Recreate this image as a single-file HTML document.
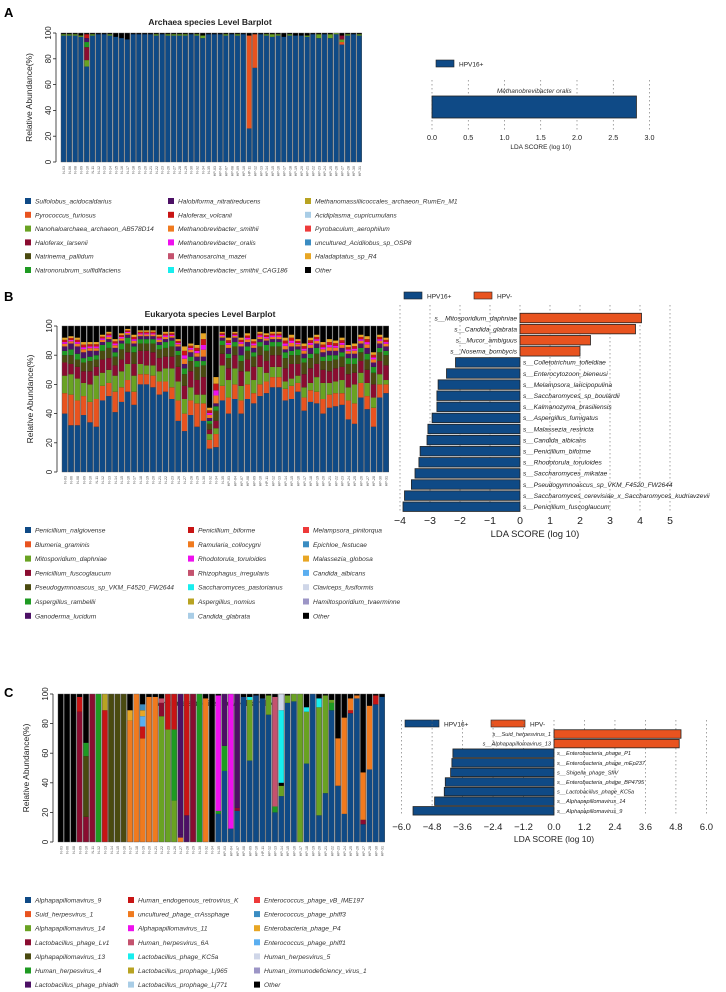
<!DOCTYPE html>
<html><head><meta charset="utf-8"><style>
body{margin:0;background:#fff;}
svg{display:block;font-family:"Liberation Sans",sans-serif;}
.it{font-style:italic;}
</style></head><body>
<svg id="fig" width="726" height="992" viewBox="0 0 726 992" xmlns="http://www.w3.org/2000/svg">
<text x="4" y="17" font-size="13" font-weight="bold">A</text>
<text x="4" y="301" font-size="13" font-weight="bold">B</text>
<text x="4" y="697" font-size="13" font-weight="bold">C</text>
<text x="210" y="25" font-size="8.5" font-weight="bold" text-anchor="middle" fill="#222">Archaea species Level Barplot</text>
<text x="210" y="317" font-size="8.5" font-weight="bold" text-anchor="middle" fill="#222">Eukaryota species Level Barplot</text>
<text x="215" y="706" font-size="8.5" font-weight="bold" text-anchor="middle" fill="#222">Viruses species Level Barplot</text>
<g id="g"></g>
</svg>
<script>
const palette=["#0f4a86","#e8531f","#69a222","#8a0c30","#4a4a10","#1e9a22","#4c1065","#c81414","#f07a1e","#ee10ee","#c4526e","#18eeee","#b8a322","#a9cde6","#ee3a3a","#3a8cc2","#e8a624","#5aaef0","#cfd6e8","#9c95c6","#000000"];
const nLabels=["N-03","N-06","N-08","N-09","N-10","N-11","N-12","N-13","N-14","N-15","N-16","N-17","N-18","N-19","N-20","N-21","N-22","N-23","N-26","N-27","N-28","N-29","N-30","N-32","N-34","N-35"];
const hLabels=["HP-03","HP-04","HP-07","HP-08","HP-09","HP-10","HP-11","HP-12","HP-13","HP-14","HP-15","HP-16","HP-17","HP-18","HP-19","HP-20","HP-21","HP-22","HP-23","HP-24","HP-25","HP-26","HP-27","HP-28","HP-30","HP-31"];
const sampleLabels=nLabels.concat(hLabels);

// Archaea (percent)
const archaeaSulfolobus=[98,98,98,97,74,98,99,99,98,97,96,95,99,99,99,99,98,99,98,98,98,98,99,98,96,99,99,99,98,99,98,99,26,73,99,98,97,98,97,98,98,98,97,99,96,99,96,99,91,98,99,98];
const archaeaPyrococcus=[0,0,0,0,0,0,0,0,0,0,0,0,0,0,0,0,0,0,0,0,0,0,0,0,0,0,0,0,0,0,0,0,72,26,0,0,0,0,0,0,0,0,0,0,0,0,0,0,2,0,0,0];
const archaeaNano=[1,1,1,1,5,1,0,0,1,0,0,0,0,0,0,0,1,0,1,1,1,1,0,1,2,0,0,0,1,0,1,0,0,0,0,1,2,1,0,1,0,0,1,0,3,0,3,1,2,1,0,1];
const archaeaLarsenii=[0,0,0,0,10,0,0,0,0,0,0,0,0,0,0,0,0,0,0,0,0,0,0,0,0,0,0,0,0,0,0,0,0,0,0,0,0,0,0,0,0,0,0,0,0,0,0,0,3,0,0,0];

// Eukaryota (percent)
const eukNalgiovense=[40,32,32,39,34,31,49,52,41,48,55,46,60,60,58,53,55,50,35,28,39,31,35,16,17,49,40,50,40,50,47,52,54,58,58,49,50,55,42,48,47,40,44,45,46,36,33,51,43,31,51,54];
const eukBlumeria=[14,21,17,13,14,19,10,9,14,10,8,9,7,7,8,9,7,8,14,12,10,16,12,6,9,10,11,10,9,10,7,8,8,7,7,8,9,6,9,8,8,10,9,9,8,13,14,10,9,13,9,6];
const eukMitosporidium=[12,14,15,9,12,16,9,9,11,11,11,11,7,6,7,7,9,13,13,10,9,6,6,4,4,14,12,11,10,9,9,12,6,7,7,5,5,5,7,5,10,11,8,8,9,9,13,7,9,7,7,3];
const eukFuscoglaucum=[9,7,8,8,9,6,9,8,7,8,8,8,9,10,9,9,8,8,10,9,11,10,12,3,5,8,8,9,10,8,9,8,8,8,8,9,10,8,9,10,9,9,8,9,9,9,8,8,9,9,9,10];
const eukPseudogymno=[5,6,5,6,7,5,6,7,6,7,6,8,5,5,6,6,6,7,8,8,7,9,8,4,7,6,7,6,7,6,7,6,7,6,6,7,6,6,8,7,7,6,7,6,7,7,6,6,7,8,6,7];
const eukRambellii=[3,4,4,3,3,3,4,4,3,4,4,4,3,3,3,3,4,4,3,4,3,4,3,2,3,3,3,3,4,3,3,3,4,3,3,4,3,4,3,3,4,3,4,3,3,4,4,3,4,4,3,3];
const eukGanoderma=[3,4,5,4,4,3,2,2,3,2,2,2,2,2,2,2,2,2,3,3,3,3,3,2,2,2,4,3,6,3,3,2,3,2,2,2,3,2,3,4,3,3,3,3,3,3,3,3,4,3,3,3];
const eukMinor=[6,5,6,7,6,6,5,5,6,5,4,6,4,4,4,5,5,4,5,12,6,8,16,7,18,4,7,4,6,6,6,5,5,5,5,8,8,5,7,7,6,7,8,7,7,6,7,6,8,7,6,6];

// Viruses: [speciesIndex, percent] stacked from bottom
const virusStacks=[
[],[],[],[[3,88],[7,10]],[[3,17],[4,41],[5,9]],[[3,100]],[[5,100]],[[7,89],[12,11]],[[4,100]],[[4,100]],[[4,100]],[[8,82],[16,7]],[[8,100]],
[[8,70],[7,8],[17,7],[16,4],[15,4]],[[8,98]],[[8,98]],[[2,85],[3,9],[10,3]],[[2,76],[7,24]],[[2,28],[5,48],[7,24]],[[8,3],[6,2],[6,95]],[[6,18],[7,82]],[[3,100]],[[5,100]],[[8,97]],[],
[[0,19],[5,2],[9,78]],[[0,48],[5,17],[6,35]],[[0,9],[9,91]],[[0,21],[3,2],[6,77]],[[0,98]],[[0,55],[2,41],[11,2]],[[0,99]],[[0,97]],[[0,86],[2,13]],[[0,20],[5,4],[10,74]],
[[0,31],[2,7],[20,2],[11,49],[18,11]],[[0,94],[2,5]],[[0,95],[2,5]],[[2,100]],[[0,53],[2,35],[11,3]],[[0,100]],[[0,18],[2,73],[11,6]],[[0,33],[2,66]],[[0,89],[5,5],[2,2]],[[0,38],[8,32]],[[0,19],[8,65]],[[0,87],[7,2],[8,8]],[[0,97],[8,2]],[[0,12],[3,3],[8,32]],[[0,49],[8,43]],[[0,93],[7,6]],[[0,98]]
];

// LDA
const ldaALabels=["Methanobrevibacter oralis"];
const ldaAValues=[2.82];
const ldaATicks=[0,0.5,1,1.5,2,2.5,3];
const ldaBLabels=["s__Mitosporidium_daphniae","s__Candida_glabrata","s__Mucor_ambiguus","s__Nosema_bombycis","s__Colletotrichum_tofieldiae","s__Enterocytozoon_bieneusi","s__Melampsora_laricipopulina","s__Saccharomyces_sp_boulardii","s__Kalmanozyma_brasiliensis","s__Aspergillus_fumigatus","s__Malassezia_restricta","s__Candida_albicans","s__Penicillium_biforme","s__Rhodotorula_toruloides","s__Saccharomyces_mikatae","s__Pseudogymnoascus_sp_VKM_F4520_FW2644","s__Saccharomyces_cerevisiae_x_Saccharomyces_kudriavzevii","s__Penicillium_fuscoglaucum"];
const ldaBValues=[4.05,3.85,2.35,2.0,-2.15,-2.45,-2.73,-2.77,-2.77,-2.93,-3.07,-3.1,-3.33,-3.37,-3.5,-3.62,-3.85,-3.9];
const ldaBTicks=[-4,-3,-2,-1,0,1,2,3,4,5];
const ldaCLabels=["s__Suid_herpesvirus_1","s__Alphapapillomavirus_13","s__Enterobacteria_phage_P1","s__Enterobacteria_phage_mEp237","s__Shigella_phage_SfIV","s__Enterobacteria_phage_BP4795","s__Lactobacillus_phage_KC5a","s__Alphapapillomavirus_14","s__Alphapapillomavirus_9"];
const ldaCValues=[5.0,4.93,-3.98,-4.02,-4.07,-4.28,-4.32,-4.7,-5.55];
const ldaCTicks=[-6.0,-4.8,-3.6,-2.4,-1.2,0.0,1.2,2.4,3.6,4.8,6.0];

const legendA=[["Sulfolobus_acidocaldarius","Pyrococcus_furiosus","Nanohaloarchaea_archaeon_AB578D14","Haloferax_larsenii","Natrinema_pallidum","Natronorubrum_sulfidifaciens"],["Halobiforma_nitratireducens","Haloferax_volcanii","Methanobrevibacter_smithii","Methanobrevibacter_oralis","Methanosarcina_mazei","Methanobrevibacter_smithii_CAG186"],["Methanomassiliicoccales_archaeon_RumEn_M1","Acidiplasma_cupricumulans","Pyrobaculum_aerophilum","uncultured_Acidilobus_sp_OSP8","Haladaptatus_sp_R4","Other"]];
const legendB=[["Penicillium_nalgiovense","Blumeria_graminis","Mitosporidium_daphniae","Penicillium_fuscoglaucum","Pseudogymnoascus_sp_VKM_F4520_FW2644","Aspergillus_rambellii","Ganoderma_lucidum"],["Penicillium_biforme","Ramularia_collocygni","Rhodotorula_toruloides","Rhizophagus_irregularis","Saccharomyces_pastorianus","Aspergillus_nomius","Candida_glabrata"],["Melampsora_pinitorqua","Epichloe_festucae","Malassezia_globosa","Candida_albicans","Claviceps_fusiformis","Hamiltosporidium_tvaerminne","Other"]];
const legendC=[["Alphapapillomavirus_9","Suid_herpesvirus_1","Alphapapillomavirus_14","Lactobacillus_phage_Lv1","Alphapapillomavirus_13","Human_herpesvirus_4","Lactobacillus_phage_phiadh"],["Human_endogenous_retrovirus_K","uncultured_phage_crAssphage","Alphapapillomavirus_11","Human_herpesvirus_6A","Lactobacillus_phage_KC5a","Lactobacillus_prophage_Lj965","Lactobacillus_prophage_Lj771"],["Enterococcus_phage_vB_IME197","Enterococcus_phage_phiff3","Enterobacteria_phage_P4","Enterococcus_phage_phiff1","Human_herpesvirus_5","Human_immunodeficiency_virus_1","Other"]];

const NS="http://www.w3.org/2000/svg";
const G=document.getElementById('g');
function el(tag,attrs,parent){const e=document.createElementNS(NS,tag);for(const k in attrs)e.setAttribute(k,attrs[k]);(parent||G).appendChild(e);return e;}
function txt(x,y,s,attrs,parent){const e=el('text',Object.assign({x:x,y:y},attrs),parent);e.textContent=s;return e;}

function stackedChart(name,x0,step,yBottom,yTop,stacks){
  const g=el('g',{});
  
  
  const sy=v=>yBottom-(yBottom-yTop)*v/100;
  stacks.forEach((segs,i)=>{
    const x=x0+i*step;
    let acc=0;
    el('rect',{x:x,y:yTop,width:step-0.8,height:yBottom-yTop,fill:'#000'},g);
    segs.forEach(([ci,v])=>{
      if(v<=0)return;
      const r=el('rect',{x:x,y:sy(acc+v),width:step-0.8,height:sy(acc)-sy(acc+v),fill:palette[ci]},g);
      
      
      acc+=v;
    });
    el('rect',{x:x,y:yTop,width:step-0.8,height:yBottom-yTop,fill:'none',stroke:'#555','stroke-width':0.4},g);
    const t=txt(0,0,sampleLabels[i]||'',{'font-size':3.6,fill:'#555','text-anchor':'end',transform:`translate(${x+step/2+1.2},${yBottom+4}) rotate(-90)`},g);
    
    
  });
  const ax=x0-5;
  el('line',{x1:ax,y1:yTop,x2:ax,y2:yBottom,stroke:'#222','stroke-width':0.8},g);
  [0,20,40,60,80,100].forEach(v=>{
    el('line',{x1:ax-3,y1:sy(v),x2:ax,y2:sy(v),stroke:'#222','stroke-width':0.8},g);
    const t=txt(0,0,String(v),{'font-size':8,fill:'#222','text-anchor':'middle',transform:`translate(${ax-5},${sy(v)}) rotate(-90)`},g);
    
    
  });
  const yl=txt(0,0,'Relative Abundance(%)',{'font-size':8.5,fill:'#222','text-anchor':'middle',transform:`translate(${ax-24},${(yTop+yBottom)/2}) rotate(-90)`},g);
  
  
}

function legend(name,cols,xs,y0,dy,colorIdx){
  const g=el('g',{});
  
  
  let k=0;
  cols.forEach((col,c)=>{
    col.forEach((s,r)=>{
      const ci=s==='Other'?20:colorIdx[k];
      k++;
      const y=y0+r*dy;
      el('rect',{x:xs[c],y:y-5,width:6,height:6,fill:palette[ci]},g);
      const t=txt(xs[c]+10,y+0.5,s,{'font-size':6.6,fill:'#333',class:'it'},g);
      
      
    });
  });
}

function lda(name,zeroX,unit,ticks,tickFmt,tickY,tickFont,labels,values,rowY0,rowDy,barH,gridTop,gridBottom,titleY,labelFont,posColor){
  const g=el('g',{});
  
  
  const sx=v=>zeroX+v*unit;
  ticks.forEach(t=>{
    el('line',{x1:sx(t),y1:gridTop,x2:sx(t),y2:gridBottom,stroke:'#666','stroke-width':0.6,'stroke-dasharray':'1.5,2.5'},g);
    const tt=txt(sx(t),tickY,tickFmt(t),{'font-size':tickFont,fill:'#222','text-anchor':'middle'},g);
    
    
  });
  const xt=txt(sx((ticks[0]+ticks[ticks.length-1])/2),titleY,'LDA SCORE (log 10)',{'font-size':tickFont*0.9,fill:'#222','text-anchor':'middle'},g);
  
  
  values.forEach((v,i)=>{
    const y=rowY0+i*rowDy;
    const r=el('rect',{x:Math.min(sx(0),sx(v)),y:y-barH/2,width:Math.abs(sx(v)-sx(0)),height:barH,fill:v>0?posColor:'#0f4a86',stroke:'#222','stroke-width':0.8},g);
    
    
    if(labels.length===1){
      const t=txt(sx(v)/2+zeroX/2,y-barH/2-3,labels[i],{'font-size':labelFont,fill:'#333',class:'it','text-anchor':'middle'},g);
      
      
    } else {
      const t=txt(v>0?sx(0)-3:sx(0)+3,y+labelFont*0.35,labels[i],{'font-size':labelFont,fill:'#222',class:'it','text-anchor':v>0?'end':'start'},g);
      
      
    }
  });
}
function ldaLegend(name,x,y,w,items){
  const g=el('g',{});
  
  
  let cx=x;
  items.forEach(([lab,col])=>{
    el('rect',{x:cx,y:y-4,width:w,height:7,fill:col,stroke:'#222','stroke-width':0.6},g);
    const t=txt(cx+w+5,y+2.5,lab,{'font-size':6.5,fill:'#222'},g);
    
    
    cx+=w+52;
  });
}

// Panel A
const aStacks=archaeaSulfolobus.map((b,i)=>{
  const s=[[0,b],[1,archaeaPyrococcus[i]],[2,archaeaNano[i]],[3,archaeaLarsenii[i]]];
  if(i===4)s.push([5,4],[6,3],[7,3]);
  return s;
});
stackedChart('archaea-barplot',61,5.8,162,33,aStacks);
legend('archaea-legend',legendA,[25,168,305],203,13.8,[0,1,2,3,4,5,6,7,8,9,10,11,12,13,14,15,16]);
ldaLegend('archaea-lda-legend',436,64,18,[["HPV16+","#0f4a86"]]);
lda('archaea-lda',432,72.5,ldaATicks,t=>t.toFixed(1),140,7.2,ldaALabels,ldaAValues,107,0,22,80,130,149,6.5,'#0f4a86');

// Panel B
const bStacks=eukNalgiovense.map((b,i)=>[[0,b],[1,eukBlumeria[i]],[2,eukMitosporidium[i]],[3,eukFuscoglaucum[i]],[4,eukPseudogymno[i]],[5,eukRambellii[i]],[6,eukGanoderma[i]],[8,eukMinor[i]*0.3],[9,eukMinor[i]*0.2],[7,eukMinor[i]*0.25],[16,eukMinor[i]*0.25]]);
stackedChart('eukaryota-barplot',62,6.3,472,326,bStacks);
legend('eukaryota-legend',legendB,[25,188,303],532,14.3,[0,1,2,3,4,5,6,7,8,9,10,11,12,13,14,15,16,17,18,19]);
ldaLegend('eukaryota-lda-legend',404,296,18,[["HPV16+","#0f4a86"],["HPV-","#e8531f"]]);
lda('eukaryota-lda',520,30,ldaBTicks,t=>String(t).replace('-','\u2212'),524,10.5,ldaBLabels,ldaBValues,318,11.1,9.5,305,513,537,6.6,'#e8531f');

// Panel C
stackedChart('viruses-barplot',58,6.3,842,694,virusStacks);
legend('viruses-legend',legendC,[25,128,254],902,14.1,[0,1,2,3,4,5,6,7,8,9,10,11,12,13,14,15,16,17,18,19]);
ldaLegend('viruses-lda-legend',405,724,34,[["HPV16+","#0f4a86"],["HPV-","#e8531f"]]);
lda('viruses-lda',554,25.4,ldaCTicks,t=>t.toFixed(1).replace('-','\u2212'),830,9.5,ldaCLabels,ldaCValues,734,9.6,8.5,720,815,842,5.6,'#e8531f');
</script>
</body></html>
